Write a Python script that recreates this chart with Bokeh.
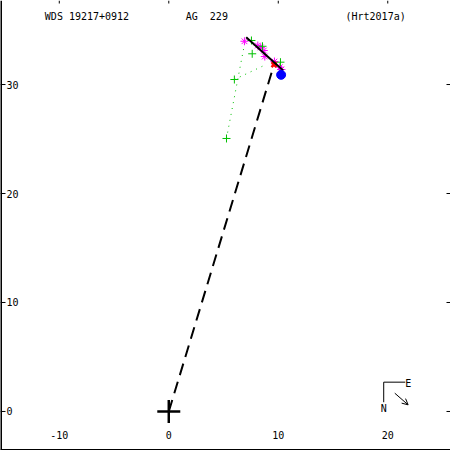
import math
from bokeh.plotting import figure
from bokeh.models import Range1d, Arrow, OpenHead, Span
from bokeh.core.properties import value
from bokeh.embed import file_html
from bokeh.resources import INLINE

# ---- data ----
x_ticks = [-10, 0, 10, 20]
y_ticks = [0, 10, 20, 30]
x_tick_labels = ["-10", "0", "10", "20"]
y_tick_labels = ["0", "10", "20", "30"]

primary_x = [0.0]
primary_y = [0.0]

fit_x = [7.07, 10.45]
fit_y = [34.34, 31.28]

pred_x = [9.61]
pred_y = [31.83]

blue_x = [10.26]
blue_y = [30.89]

green_x = [7.55, 8.56, 7.62, 10.20, 5.99, 5.27]
green_y = [34.04, 33.51, 32.82, 32.05, 30.46, 25.05]

resid_x0 = [5.27, 5.99]
resid_y0 = [25.05, 30.46]
resid_x1 = [6.95, 8.83]
resid_y1 = [33.90, 31.81]

magenta_x = [6.91, 8.13, 8.40, 8.68, 8.77, 9.65, 10.14, 10.29]
magenta_y = [33.97, 33.58, 33.40, 33.12, 32.57, 32.11, 31.59, 31.38]

title_texts = ["WDS 19217+0912", "AG\u00a0\u00a0229", "(Hrt2017a)"]
title_x = [-11.32, 1.55, 16.14]
title_y = [36.2, 36.2, 36.2]

# compass (N / E)
comp_corner = (19.63, 2.69)
comp_n_end = (19.63, 0.85)
comp_e_end = (21.60, 2.69)
comp_arrow = (20.64, 1.68, 21.86, 0.61)
comp_labels = ["N", "E"]
comp_lx = [19.63, 21.87]
comp_ly = [0.30, 2.60]

X0, X1 = -15.37, 25.73
Y0, Y1 = -3.58, 37.71

FONT = value("DejaVu Sans Mono")
FS = "10px"

p = figure(width=450, height=450, output_backend="svg", toolbar_location=None,
           x_range=Range1d(X0, X1), y_range=Range1d(Y0, Y1),
           x_axis_location=None, y_axis_location=None, min_border=0)
p.grid.visible = False
p.outline_line_color = None
p.background_fill_color = "white"

# axis lines (left and bottom)
p.add_layout(Span(location=X0, dimension="height", line_color="black", line_width=3))
p.add_layout(Span(location=Y0, dimension="width", line_color="black", line_width=3))

# tick marks (inward)
p.ray(x=[X0] * len(y_ticks), y=y_ticks, length=5, length_units="screen",
      angle=0, line_color="black", line_width=1)
p.ray(x=[X1] * len(y_ticks), y=y_ticks, length=4, length_units="screen",
      angle=math.pi, line_color="black", line_width=1)
p.ray(x=x_ticks, y=[Y1] * len(x_ticks), length=3, length_units="screen",
      angle=-math.pi / 2, line_color="black", line_width=1)

# tick labels inside the frame
p.text(x=x_ticks, y=[-2.17] * len(x_ticks), text=x_tick_labels,
       text_font=FONT, text_font_size=FS, text_align="center",
       text_baseline="middle", text_color="black")
p.text(x=[X0] * len(y_ticks), y=y_ticks, text=y_tick_labels, x_offset=6,
       text_font=FONT, text_font_size=FS, text_align="left",
       text_baseline="middle", text_color="black")

# titles
p.text(x=title_x, y=title_y, text=title_texts, text_font=FONT,
       text_font_size=FS, text_align="left", text_baseline="middle",
       text_color="black")

# dashed line from primary to predicted position
p.line(x=[primary_x[0], pred_x[0]], y=[primary_y[0], pred_y[0]],
       line_color="black", line_width=2, line_dash="12 7")

# residual dotted lines
p.segment(x0=resid_x0, y0=resid_y0, x1=resid_x1, y1=resid_y1,
          line_color="#00c000", line_width=1, line_dash="1 5")

# measurements
p.scatter(x=magenta_x, y=magenta_y, marker="asterisk", size=8,
          line_color="#ff00ff", line_width=1)
p.scatter(x=green_x, y=green_y, marker="cross", size=8,
          line_color="#00c000", line_width=1)
p.scatter(x=pred_x, y=pred_y, marker="x", size=7,
          line_color="#ff0000", line_width=2.5)

# fit line (drawn over the measurements)
p.line(x=fit_x, y=fit_y, line_color="black", line_width=2)

p.scatter(x=blue_x, y=blue_y, marker="circle", size=9,
          fill_color="#0000ff", line_color="#0000ff")

# primary
p.scatter(x=primary_x, y=primary_y, marker="cross", size=23,
          line_color="black", line_width=2.5)

# compass
p.line(x=[comp_n_end[0], comp_corner[0], comp_e_end[0]],
       y=[comp_n_end[1], comp_corner[1], comp_e_end[1]],
       line_color="black", line_width=1)
p.add_layout(Arrow(end=OpenHead(size=6, line_width=1, line_color="black"),
                   x_start=comp_arrow[0], y_start=comp_arrow[1],
                   x_end=comp_arrow[2], y_end=comp_arrow[3],
                   line_color="black", line_width=1))
p.text(x=comp_lx, y=comp_ly, text=comp_labels, text_font=FONT,
       text_font_size=FS, text_align="center", text_baseline="middle",
       text_color="black")

open("out.html", "w").write(file_html(p, INLINE))
